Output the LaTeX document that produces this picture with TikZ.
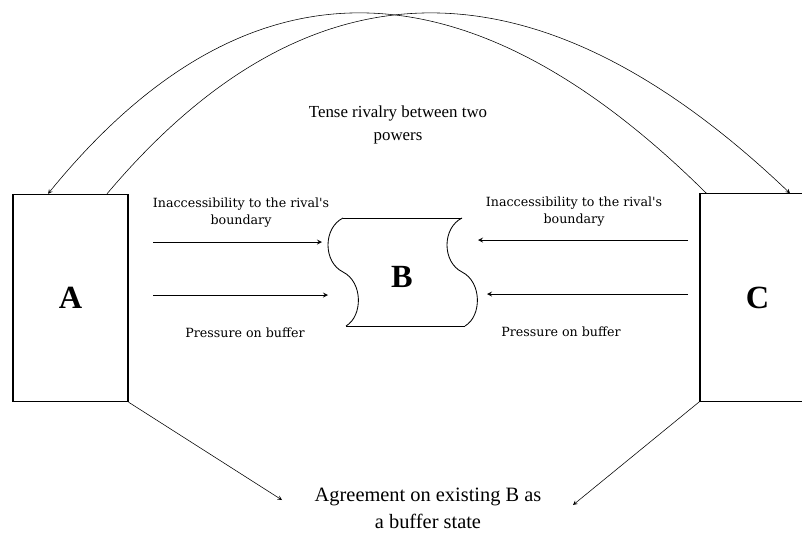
\documentclass[tikz,border=0pt]{standalone}
\usepackage{fontspec}
\setmainfont{Liberation Serif}
\newfontfamily\widefont{DejaVu Serif}
\usepackage{tikz}
\usetikzlibrary{arrows, positioning, calc}

\begin{document}
\begin{tikzpicture}[
    x=0.025cm, y=-0.025cm,
    power/.style={draw, thick, rectangle, minimum width=2.875cm, minimum height=5.18cm, font=\fontsize{23}{26}\selectfont\bfseries},
    lbl/.style={font=\widefont\fontsize{9}{12}\selectfont, align=center},
    big/.style={font=\fontsize{12}{16}\selectfont, align=center},
    push/.style={semithick,->,>=stealth},
    link/.style={thin,->,>=stealth}
]
\useasboundingbox (0,0) rectangle (802,533);

% Rival powers
\node[power] (A) at (70.5,298) {A};
\node[power] (C) at (757.5,297.5) {C};

% Buffer state
\draw[semithick] (343,218) -- (462,218);
\draw[semithick] (346,326) -- (465,326);
\draw[semithick] (343,218) .. controls (323,228) and (323,262) .. (343,272)
                       .. controls (363,282) and (363,316) .. (346,326);
\draw[semithick] (462,218) .. controls (442,228) and (442,262) .. (462,272)
                       .. controls (482,282) and (482,316) .. (465,326);
\node[font=\fontsize{23}{26}\selectfont\bfseries] (B) at (402,277) {B};

% Labels
\node[big] (rivalry) at (398,125) {Tense rivalry between two\\powers};
\node[lbl] (accL) at (241,213) {Inaccessibility to the rival's\\boundary};
\node[lbl] (accR) at (574,212) {Inaccessibility to the rival's\\boundary};
\node[lbl] (presL) at (245,333) {Pressure on buffer};
\node[lbl] (presR) at (561,332) {Pressure on buffer};
\node[big, font=\fontsize{14.5}{19}\selectfont] (agree) at (428,508) {Agreement on existing B as\\a buffer state};

% Pressure on B
\coordinate (aL1) at (153,242);
\coordinate (aL2) at (153,295);
\coordinate (bL1) at (322,242);
\coordinate (bL2) at (328,295);
\coordinate (aR1) at (688,240);
\coordinate (aR2) at (688,294);
\coordinate (bR1) at (478,240);
\coordinate (bR2) at (487,294);
\draw[push] (aL1) -- (bL1);
\draw[push] (aL2) -- (bL2);
\draw[push] (aR1) -- (bR1);
\draw[push] (aR2) -- (bR2);

% Rivalry arcs
\draw[link] ($(A.north)+(36.5,0)$) .. controls (310,-47) and (538,-47) .. ($(C.north)+(32.5,0)$);
\draw[link] ($(C.north west)+(7,0)$) .. controls (464,-47) and (244,-47) .. ($(A.north)+(-22.5,0)$);

% Agreement
\coordinate (agL) at (282,500);
\coordinate (agR) at (573,505);
\draw[link] (A.south east) -- (agL);
\draw[link] (C.south west) -- (agR);

\end{tikzpicture}
\end{document}
